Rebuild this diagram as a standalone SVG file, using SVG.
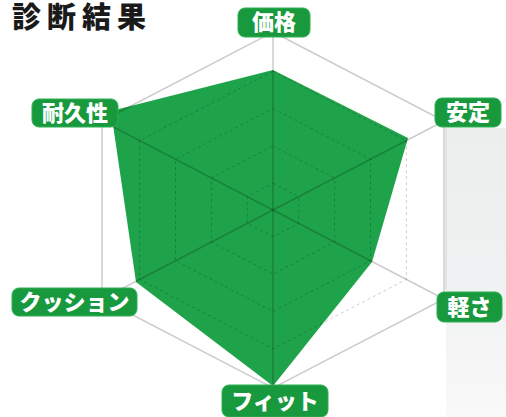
<svg xmlns="http://www.w3.org/2000/svg" width="506" height="417" viewBox="0 0 506 417">
<defs>
<linearGradient id="bg" x1="0" y1="0" x2="0" y2="1">
<stop offset="0" stop-color="#eceded"/>
<stop offset="0.6" stop-color="#f1f2f3"/>
<stop offset="1" stop-color="#f9f9fa"/>
</linearGradient>
<style>
.grid{fill:none;stroke:rgba(0,0,0,0.2);stroke-width:1;stroke-dasharray:3 3}
.outer{fill:none;stroke:rgba(0,0,0,0.2);stroke-width:1.5}
.spoke{stroke:rgba(0,0,0,0.2);stroke-width:1.5}
.lab rect{fill:#19993d;stroke:#2db052;stroke-width:1}
.lab text{fill:#fff;font-family:"Noto Sans CJK JP","Noto Sans",sans-serif;font-weight:900;font-size:22px;text-anchor:middle}
</style>
</defs>
<rect width="506" height="417" fill="#fff"/>
<rect x="446" y="128" width="60" height="289" fill="url(#bg)"/>
<line x1="446" y1="128" x2="446" y2="290" stroke="#dcdddf" stroke-width="1.5"/>
<text x="12" y="28" font-family="Noto Sans CJK JP, sans-serif" font-weight="900" font-size="29" letter-spacing="6" fill="#1a1a1a">診断結果</text>
<g id="data">
<polygon points="273,70 408,138 372,262 273,386 136,282 111,111" fill="#1fa34a"/>
</g>
<g id="grid">
<polygon class="outer" points="273,32 444,121 444,299 273,388 102,299 102,121"/>
<polygon class="grid" points="273,71.2 406.4,140.6 406.4,279.4 273,348.8 139.6,279.4 139.6,140.6"/>
<polygon class="grid" points="273,108.5 370.5,159.3 370.5,260.7 273,311.5 175.5,260.7 175.5,159.3"/>
<polygon class="grid" points="273,145.9 334.6,178 334.6,242 273,274.1 211.4,242 211.4,178"/>
<polygon class="grid" points="273,183.3 298.7,196.7 298.7,223.3 273,236.7 247.3,223.3 247.3,196.7"/>
</g>
<g id="connectors">
<line class="spoke" x1="273" y1="210" x2="273" y2="32"/>
<line class="spoke" x1="273" y1="210" x2="444" y2="121"/>
<line class="spoke" x1="273" y1="210" x2="444" y2="299"/>
<line class="spoke" x1="273" y1="210" x2="273" y2="388"/>
<line class="spoke" x1="273" y1="210" x2="102" y2="299"/>
<line class="spoke" x1="273" y1="210" x2="102" y2="121"/>
</g>
<g id="price" class="lab"><rect x="238" y="8" width="72" height="29" rx="7"/><text x="274" y="30">価格</text></g>
<g id="stability" class="lab"><rect x="435" y="98" width="66" height="29" rx="7"/><text x="468" y="120">安定</text></g>
<g id="lightness" class="lab"><rect x="437" y="292" width="65" height="30" rx="7"/><text x="469.5" y="315">軽さ</text></g>
<g id="fit" class="lab"><rect x="222" y="385" width="106" height="32" rx="7"/><text x="275" y="409">フィット</text></g>
<g id="cushion" class="lab"><rect x="12" y="288" width="125" height="28" rx="7"/><text x="74.5" y="310">クッション</text></g>
<g id="durability" class="lab"><rect x="32" y="99" width="86" height="28" rx="7"/><text x="75" y="121">耐久性</text></g>
</svg>
